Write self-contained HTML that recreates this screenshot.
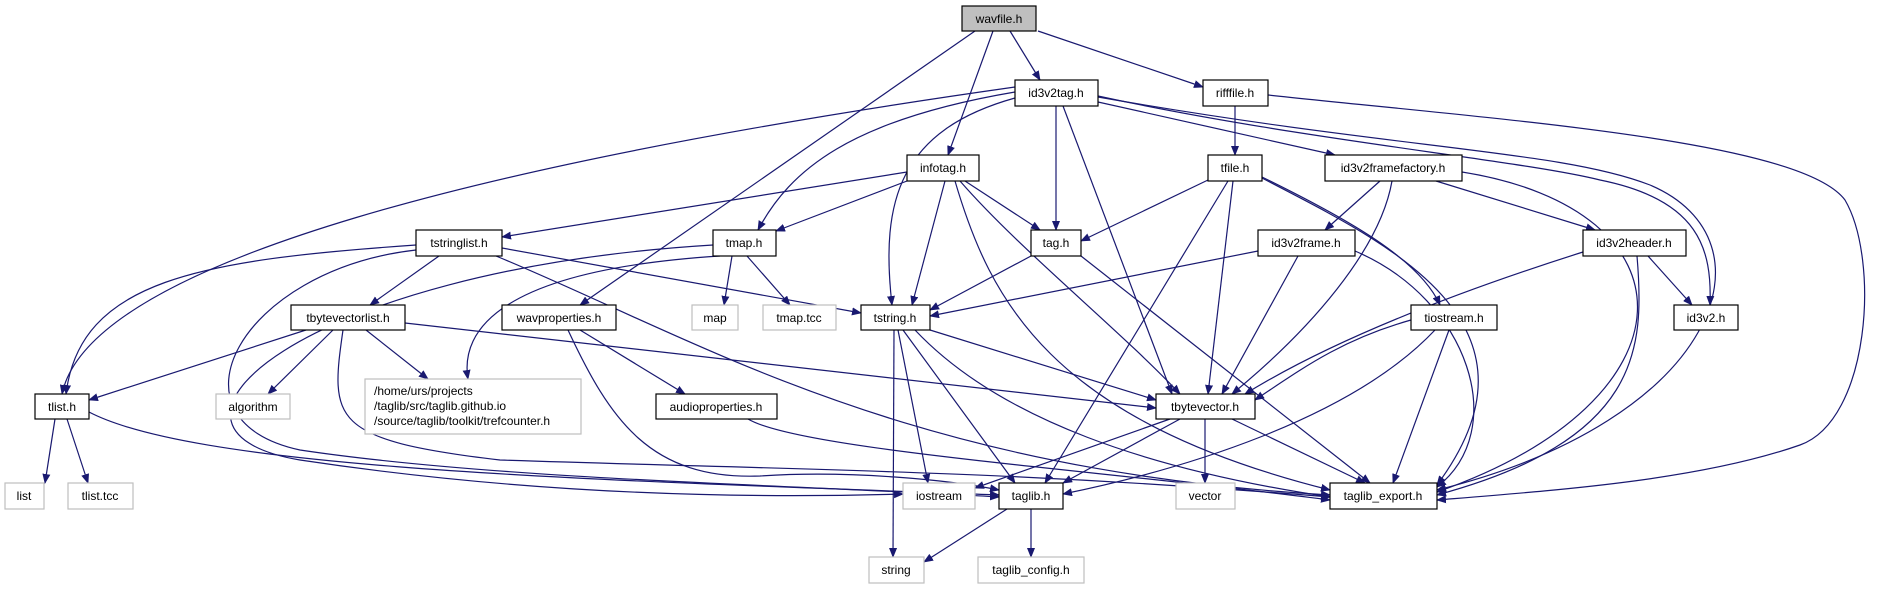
<!DOCTYPE html>
<html><head><meta charset="utf-8"><style>
body{margin:0;background:#fff;}
svg{display:block;font-family:"Liberation Sans",sans-serif;font-size:12px;}
</style></head><body>
<svg width="1883" height="589" viewBox="0 0 1883 589" xmlns="http://www.w3.org/2000/svg">
<defs><marker id="a" markerWidth="10" markerHeight="8" refX="9" refY="4" orient="auto" markerUnits="userSpaceOnUse"><path d="M0,0 L10,4 L0,8 z" fill="#191970"/></marker></defs>
<g fill="none" stroke="#191970" stroke-width="1.2" marker-end="url(#a)">
<path d="M975,31 L580,305"/>
<path d="M993,31 L948,155"/>
<path d="M1010,31 L1040,80"/>
<path d="M1038,31 L1203,87"/>
<path d="M1015,87 C500,160 90,260 62,394"/>
<path d="M1015,92 C850,120 790,170 758,230"/>
<path d="M1015,98 C900,130 880,200 892,305"/>
<path d="M1056,106 L1056,230"/>
<path d="M1063,106 L1172,394"/>
<path d="M1098,102 L1335,155"/>
<path d="M1098,96 C1300,140 1520,160 1600,180 C1700,200 1712,250 1710,305"/>
<path d="M1098,97 C1400,150 1560,150 1650,185 C1780,240 1720,420 1437,490"/>
<path d="M1235,106 L1235,155"/>
<path d="M1268,95 C1500,120 1800,140 1845,200 C1880,260 1870,420 1800,445 C1700,480 1560,490 1437,500"/>
<path d="M907,172 L502,237"/>
<path d="M907,181 L776,231"/>
<path d="M965,181 L1040,230"/>
<path d="M945,181 L912,305"/>
<path d="M960,181 C1020,250 1120,330 1180,394"/>
<path d="M955,181 C990,300 1050,420 1330,490"/>
<path d="M1208,180 L1081,241"/>
<path d="M1228,181 L1045,483"/>
<path d="M1233,181 L1208,394"/>
<path d="M1262,177 C1350,220 1420,260 1440,305"/>
<path d="M1262,178 C1380,240 1560,320 1437,485"/>
<path d="M1380,181 L1325,230"/>
<path d="M1392,181 C1380,250 1310,330 1232,394"/>
<path d="M1436,181 L1595,230"/>
<path d="M1462,172 C1700,210 1700,400 1437,492"/>
<path d="M1031,256 L930,310"/>
<path d="M1081,256 L1370,483"/>
<path d="M1258,251 L930,316"/>
<path d="M1298,256 L1222,394"/>
<path d="M1355,251 C1470,300 1510,430 1437,487"/>
<path d="M1583,252 C1400,310 1300,360 1245,394"/>
<path d="M1648,256 L1692,305"/>
<path d="M1637,256 C1645,350 1640,440 1437,495"/>
<path d="M416,245 C200,260 80,280 66,394"/>
<path d="M439,256 L370,305"/>
<path d="M502,248 L861,313"/>
<path d="M496,256 C700,340 900,470 1330,495"/>
<path d="M416,250 C240,270 160,420 300,450 C500,480 800,485 999,497"/>
<path d="M720,256 C500,270 460,330 468,379"/>
<path d="M732,256 L724,305"/>
<path d="M747,256 L790,305"/>
<path d="M713,245 C300,270 120,430 300,460 C500,490 700,500 903,494"/>
<path d="M306,330 L89,400"/>
<path d="M333,330 L268,394"/>
<path d="M366,330 L428,379"/>
<path d="M405,323 L1156,408"/>
<path d="M343,330 C330,420 330,440 500,460 C800,470 1000,470 1330,497"/>
<path d="M580,330 L685,394"/>
<path d="M568,330 C610,420 650,480 760,476 C850,470 950,480 999,490"/>
<path d="M748,419 C800,450 1100,470 1330,500"/>
<path d="M894,330 L893,557"/>
<path d="M898,330 L928,483"/>
<path d="M903,330 L1015,483"/>
<path d="M930,330 L1156,400"/>
<path d="M915,330 C1000,420 1150,470 1330,497"/>
<path d="M55,419 L45,483"/>
<path d="M67,419 L88,483"/>
<path d="M89,412 C200,470 600,480 999,495"/>
<path d="M1170,419 L975,488"/>
<path d="M1180,419 L1063,483"/>
<path d="M1205,419 L1205,483"/>
<path d="M1232,419 L1365,483"/>
<path d="M1411,320 C1340,340 1300,370 1255,400"/>
<path d="M1435,330 C1350,420 1180,470 1063,494"/>
<path d="M1449,330 L1393,483"/>
<path d="M1007,509 L924,562"/>
<path d="M1031,509 L1031,557"/>
</g>
<g stroke-width="1.2" text-anchor="middle">
<g fill="#fff" stroke="#000">
<rect x="962" y="6" width="74" height="25" fill="#bfbfbf"/>
<rect x="1015" y="80" width="83" height="26"/>
<rect x="1203" y="80" width="65" height="26"/>
<rect x="907" y="155" width="72" height="26"/>
<rect x="1208" y="155" width="54" height="26"/>
<rect x="1325" y="155" width="137" height="26"/>
<rect x="1031" y="230" width="50" height="26"/>
<rect x="1258" y="230" width="97" height="26"/>
<rect x="1583" y="230" width="103" height="26"/>
<rect x="416" y="230" width="86" height="26"/>
<rect x="713" y="230" width="63" height="26"/>
<rect x="291" y="305" width="114" height="25"/>
<rect x="502" y="305" width="114" height="25"/>
<rect x="861" y="305" width="69" height="25"/>
<rect x="35" y="394" width="54" height="25"/>
<rect x="656" y="394" width="121" height="25"/>
<rect x="1411" y="305" width="86" height="25"/>
<rect x="1674" y="305" width="64" height="25"/>
<rect x="1156" y="394" width="99" height="25"/>
<rect x="999" y="483" width="64" height="26"/>
<rect x="1330" y="483" width="107" height="26"/>
</g>
<g fill="#fff" stroke="#bfbfbf">
<rect x="692" y="305" width="46" height="25"/>
<rect x="763" y="305" width="73" height="25"/>
<rect x="216" y="394" width="74" height="25"/>
<rect x="365" y="379" width="216" height="55"/>
<rect x="5" y="483" width="39" height="26"/>
<rect x="68" y="483" width="65" height="26"/>
<rect x="903" y="483" width="72" height="26"/>
<rect x="869" y="557" width="55" height="26"/>
<rect x="1176" y="483" width="59" height="26"/>
<rect x="978" y="557" width="106" height="26"/>
</g>
<g fill="#000">
<text x="999" y="23">wavfile.h</text>
<text x="1056" y="97">id3v2tag.h</text>
<text x="1235" y="97">rifffile.h</text>
<text x="943" y="172">infotag.h</text>
<text x="1235" y="172">tfile.h</text>
<text x="1393" y="172">id3v2framefactory.h</text>
<text x="1056" y="247">tag.h</text>
<text x="1306" y="247">id3v2frame.h</text>
<text x="1634" y="247">id3v2header.h</text>
<text x="459" y="247">tstringlist.h</text>
<text x="744" y="247">tmap.h</text>
<text x="348" y="322">tbytevectorlist.h</text>
<text x="559" y="322">wavproperties.h</text>
<text x="895" y="322">tstring.h</text>
<text x="62" y="411">tlist.h</text>
<text x="716" y="411">audioproperties.h</text>
<text x="1454" y="322">tiostream.h</text>
<text x="1706" y="322">id3v2.h</text>
<text x="1205" y="411">tbytevector.h</text>
<text x="1031" y="500">taglib.h</text>
<text x="1383" y="500">taglib_export.h</text>
<text x="715" y="322">map</text>
<text x="799" y="322">tmap.tcc</text>
<text x="253" y="411">algorithm</text>
<text x="24" y="500">list</text>
<text x="100" y="500">tlist.tcc</text>
<text x="939" y="500">iostream</text>
<text x="896" y="574">string</text>
<text x="1205" y="500">vector</text>
<text x="1031" y="574">taglib_config.h</text>
<g text-anchor="start">
<text x="374" y="395">/home/urs/projects</text>
<text x="374" y="410">/taglib/src/taglib.github.io</text>
<text x="374" y="425">/source/taglib/toolkit/trefcounter.h</text>
</g>
</g>
</g>
</svg>
</body></html>
